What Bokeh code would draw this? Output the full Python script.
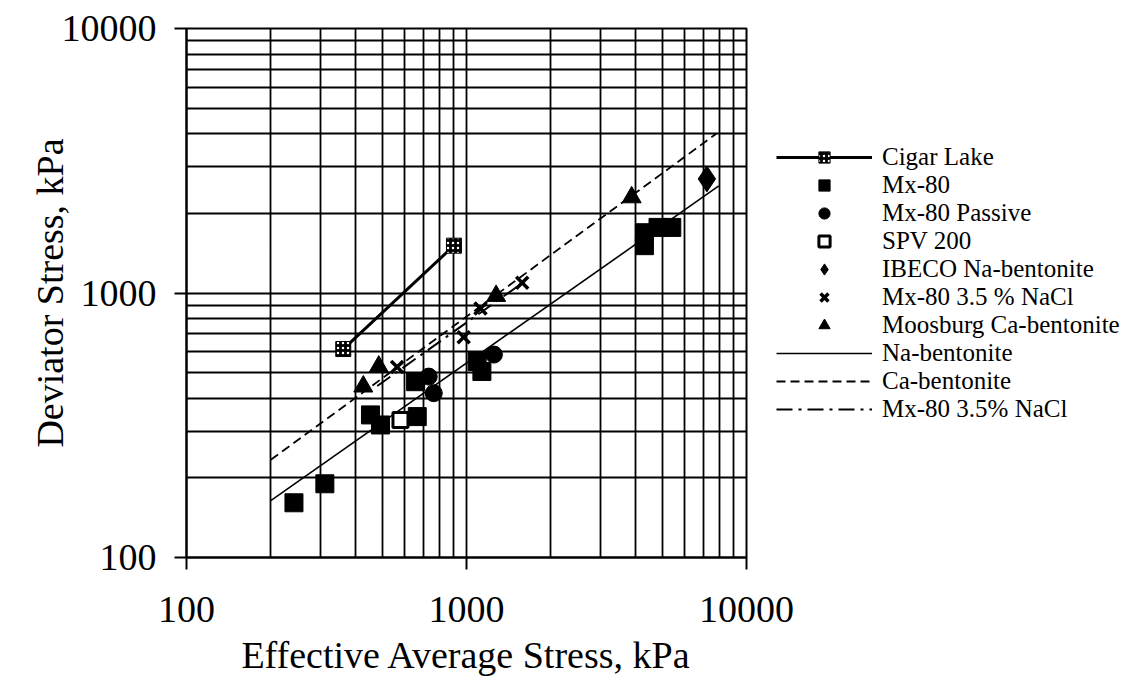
from bokeh.plotting import figure
from bokeh.models import FixedTicker, Legend, LegendItem, Range1d, PrintfTickFormatter
from bokeh.embed import file_html
from bokeh.resources import INLINE

# ---------------- data ----------------
x_ticks = [100, 1000, 10000]
y_ticks = [100, 1000, 10000]
x_minor = [m * 10 ** k for k in (2, 3) for m in range(2, 10)]
y_minor = [m * 10 ** k for k in (2, 3) for m in range(2, 10)]

cigar_x = [363, 902]
cigar_y = [614, 1510]

mx80_x = [242, 312, 454, 493, 667, 658, 1091, 1135, 4320, 4320, 4830, 5410]
mx80_y = [161, 190, 346, 317, 341, 462, 551, 505, 1510, 1690, 1770, 1770]

passive_x = [733, 764, 1253]
passive_y = [483, 418, 585]

spv_x = [581]
spv_y = [331]

ibeco_x = [7220]
ibeco_y = [2700]

nacl_x = [565, 977, 1122, 1581]
nacl_y = [525, 681, 874, 1094]

moos_x = [428, 486, 1276, 3890]
moos_y = [443, 527, 975, 2300]

na_fit_x = [200, 7960]
na_fit_y = [164, 2540]

ca_fit_x = [200, 7800]
ca_fit_y = [234, 4000]

nacl_fit_x = [480, 1600]
nacl_fit_y = [445, 1100]

FONT = "Liberation Serif"

p = figure(
    x_axis_type="log", y_axis_type="log",
    x_range=Range1d(100, 10000), y_range=Range1d(100, 10000),
    frame_width=560, frame_height=529,
    min_border_left=186, min_border_top=28, min_border_right=385, min_border_bottom=5,
    output_backend="svg", toolbar_location=None,
    x_axis_label="Effective Average Stress, kPa",
    y_axis_label="Deviator Stress, kPa",
)
p.background_fill_color = "white"
p.border_fill_color = "white"
p.outline_line_color = "black"
p.outline_line_width = 2

xt = FixedTicker(ticks=x_ticks, minor_ticks=x_minor)
yt = FixedTicker(ticks=y_ticks, minor_ticks=y_minor)
p.xaxis.ticker = xt
p.yaxis.ticker = yt
p.xgrid.ticker = xt
p.ygrid.ticker = yt
p.xaxis.formatter = PrintfTickFormatter(format="%d")
p.yaxis.formatter = PrintfTickFormatter(format="%d")

for g in (p.xgrid, p.ygrid):
    g.grid_line_color = "black"
    g.grid_line_width = 1.8
    g.minor_grid_line_color = "black"
    g.minor_grid_line_width = 1.8

for ax in (p.xaxis, p.yaxis):
    ax.axis_line_color = "black"
    ax.axis_line_width = 2
    ax.major_tick_line_color = "black"
    ax.major_tick_line_width = 2
    ax.major_tick_in = 0
    ax.major_tick_out = 12
    ax.minor_tick_in = 0
    ax.minor_tick_out = 0
    ax.major_label_text_font = FONT
    ax.major_label_text_font_size = "38px"
    ax.major_label_text_color = "black"
    ax.axis_label_text_font = FONT
    ax.axis_label_text_font_size = "38px"
    ax.axis_label_text_font_style = "normal"
    ax.axis_label_text_color = "black"

p.xaxis.major_label_standoff = 27
p.xaxis.axis_label_standoff = 9
p.yaxis.major_label_standoff = 18
p.yaxis.axis_label_standoff = -12

# fit lines
r_na = p.line(na_fit_x, na_fit_y, line_color="black", line_width=1.6)
r_ca = p.line(ca_fit_x, ca_fit_y, line_color="black", line_width=1.8, line_dash="9 5")
r_ncl = p.line(nacl_fit_x, nacl_fit_y, line_color="black", line_width=2, line_dash="16 6 3 6")

# Cigar Lake
r_cl_line = p.line(cigar_x, cigar_y, line_color="black", line_width=3)
r_cl_pts = p.scatter(cigar_x, cigar_y, marker="square", size=15, fill_color="black",
                     line_color="black", hatch_pattern="dot", hatch_color="white",
                     hatch_scale=5, hatch_weight=1.5)

r_mx = p.scatter(mx80_x, mx80_y, marker="square", size=18, fill_color="black", line_color="black")
r_pa = p.scatter(passive_x, passive_y, marker="circle", size=17, fill_color="black", line_color="black")
r_spv = p.scatter(spv_x, spv_y, marker="square", size=15, fill_color="white", line_color="black", line_width=3)
r_ib = p.scatter(ibeco_x, ibeco_y, marker="diamond", size=26, fill_color="black", line_color="black")
r_x = p.scatter(nacl_x, nacl_y, marker="x", size=17, line_color="black", line_width=3.5)
r_tr = p.scatter(moos_x, moos_y, marker="triangle", size=19, fill_color="black", line_color="black")

items = [
    LegendItem(label="Cigar Lake", renderers=[r_cl_line, r_cl_pts]),
    LegendItem(label="Mx-80", renderers=[r_mx]),
    LegendItem(label="Mx-80 Passive", renderers=[r_pa]),
    LegendItem(label="SPV 200", renderers=[r_spv]),
    LegendItem(label="IBECO Na-bentonite", renderers=[r_ib]),
    LegendItem(label="Mx-80 3.5 % NaCl", renderers=[r_x]),
    LegendItem(label="Moosburg Ca-bentonite", renderers=[r_tr]),
    LegendItem(label="Na-bentonite", renderers=[r_na]),
    LegendItem(label="Ca-bentonite", renderers=[r_ca]),
    LegendItem(label="Mx-80 3.5% NaCl", renderers=[r_ncl]),
]
legend = Legend(
    items=items, location=(30, 134),
    glyph_width=96, glyph_height=28, label_height=28, spacing=0,
    padding=5, margin=0, label_standoff=10,
    border_line_color=None, background_fill_alpha=0,
)
legend.label_text_font = "Times New Roman"
legend.label_text_font_size = "25px"
legend.label_text_color = "black"
legend.label_text_font_style = "normal"
p.add_layout(legend, "right")

open("out.html", "w").write(file_html(p, INLINE))
